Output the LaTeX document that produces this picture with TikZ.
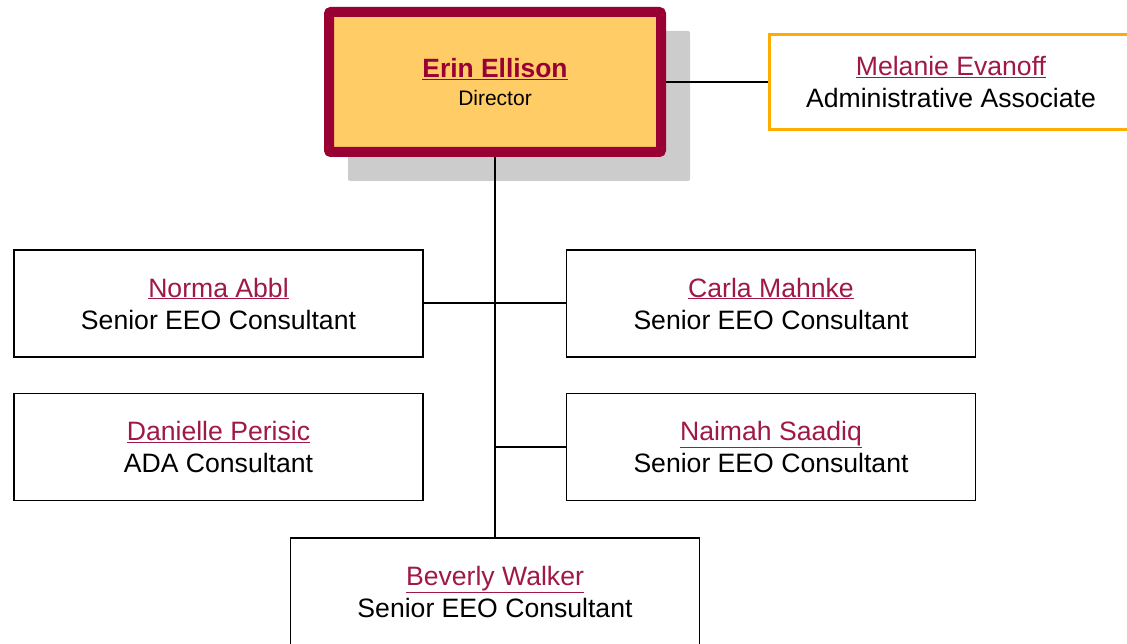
\documentclass[tikz,border=0pt]{standalone}
\usepackage{fontspec}
\setmainfont{Liberation Sans}
\definecolor{crim}{RGB}{153,0,51}
\definecolor{namecol}{RGB}{160,24,72}
\definecolor{dirfill}{RGB}{255,204,102}
\definecolor{shadowgray}{RGB}{204,204,204}
\definecolor{gold}{RGB}{255,172,0}
\tikzset{
  person/.style={draw=black, line width=1.6pt, fill=white, minimum width=409pt, minimum height=107pt, align=center, inner sep=0pt,
    font=\fontsize{26.6pt}{32pt}\selectfont},
  link/.style={draw=black, line width=2pt},
}
\newcommand{\pname}[1]{\textcolor{namecol}{\underline{#1}}}
\begin{document}
\begin{tikzpicture}[x=1pt,y=-1pt]
\useasboundingbox (0,0) rectangle (1127,644);
% shadow
\fill[shadowgray, rounded corners=2pt] (348,31) rectangle (690,181);
% director
\node[draw=crim, line width=10pt, fill=dirfill, rounded corners=2pt, minimum width=332pt, minimum height=140pt, inner sep=0pt] (dir) at (495,82) {};
\node[align=center, inner sep=0pt, font=\fontsize{21pt}{28pt}\selectfont] (dirtext) at (495,82)
  {{\fontsize{26.4pt}{28pt}\selectfont\bfseries\textcolor{crim}{\underline{Erin Ellison}}}\\Director};
% assistant
\node[person, draw=gold, line width=3pt, minimum width=363pt, minimum height=95pt] (mel) at (951,82)
  {\pname{Melanie Evanoff}\\Administrative Associate};
% staff
\node[person] (norma) at (218.5,303.5) {\pname{Norma Abbl}\\Senior EEO Consultant};
\node[person] (carla) at (771,303.5) {\pname{Carla Mahnke}\\Senior EEO Consultant};
\node[person] (dani) at (218.5,447) {\pname{Danielle Perisic}\\ADA Consultant};
\node[person] (naimah) at (771,447) {\pname{Naimah Saadiq}\\Senior EEO Consultant};
\node[person] (bev) at (495,591.5) {\pname{Beverly Walker}\\Senior EEO Consultant};
% connectors
\coordinate (jn) at (495,447);
\draw[link] (dir.east) -- (mel.west);
\draw[link] (dir.south) -- (bev.north);
\draw[link] (norma.east) -- (carla.west);
\draw[link] (jn) -- (naimah.west);
\end{tikzpicture}
\end{document}
